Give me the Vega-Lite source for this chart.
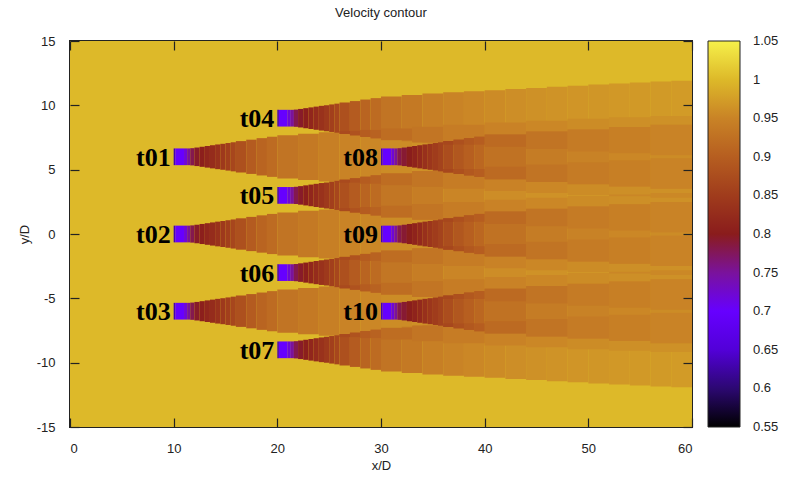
{
"$schema": "https://vega.github.io/schema/vega-lite/v6.json",
"width": 622, "height": 386,
"autosize": "none",
"padding": {"left": 70, "top": 41, "right": 95, "bottom": 55},
"background": "white",
"title": {"text": "Velocity contour", "fontSize": 13, "fontWeight": "normal", "font": "Liberation Sans", "color": "#222", "offset": 15},
"datasets": {
"f": [
{"x":0,"x2":60,"y":-15,"y2":15,"v":1},
{"x":10,"x2":10.15,"y":5.35,"y2":6.65,"v":0.63},
{"x":10.15,"x2":11,"y":5.35,"y2":6.65,"v":0.7},
{"x":11,"x2":11.3,"y":5.35,"y2":6.65,"v":0.72},
{"x":11.3,"x2":11.6,"y":5.35,"y2":6.65,"v":0.75},
{"x":11.6,"x2":12,"y":5.33,"y2":6.67,"v":0.78},
{"x":12,"x2":12.5,"y":5.28,"y2":6.72,"v":0.795},
{"x":12.5,"x2":13,"y":5.22,"y2":6.78,"v":0.805},
{"x":13,"x2":13.5,"y":5.16,"y2":6.84,"v":0.815},
{"x":13.5,"x2":14,"y":5.1,"y2":6.9,"v":0.825},
{"x":14,"x2":14.5,"y":5.04,"y2":6.96,"v":0.835},
{"x":14.5,"x2":15,"y":4.99,"y2":7.01,"v":0.845},
{"x":15,"x2":15.5,"y":4.93,"y2":7.07,"v":0.855},
{"x":15.5,"x2":16,"y":4.87,"y2":7.13,"v":0.865},
{"x":16,"x2":17,"y":4.78,"y2":7.22,"v":0.88},
{"x":17,"x2":18,"y":4.67,"y2":7.33,"v":0.895},
{"x":18,"x2":19,"y":4.55,"y2":7.45,"v":0.908},
{"x":19,"x2":20,"y":4.44,"y2":7.56,"v":0.918},
{"x":20,"x2":22,"y":4.32,"y2":7.68,"v":0.93},
{"x":22,"x2":24,"y":4.2,"y2":7.8,"v":0.937},
{"x":24,"x2":26,"y":4.09,"y2":7.91,"v":0.944},
{"x":26,"x2":28,"y":3.99,"y2":8.01,"v":0.95},
{"x":28,"x2":30,"y":3.91,"y2":8.09,"v":0.954},
{"x":30,"x2":33,"y":3.8,"y2":8.2,"v":0.958},
{"x":33,"x2":36,"y":3.67,"y2":8.33,"v":0.962},
{"x":36,"x2":40,"y":3.51,"y2":8.49,"v":0.966},
{"x":40,"x2":44,"y":3.34,"y2":8.66,"v":0.969},
{"x":44,"x2":48,"y":3.19,"y2":8.81,"v":0.971},
{"x":48,"x2":52,"y":3.04,"y2":8.96,"v":0.973},
{"x":52,"x2":56,"y":2.93,"y2":9.07,"v":0.974},
{"x":56,"x2":60,"y":2.82,"y2":9.18,"v":0.975},
{"x":10,"x2":10.15,"y":-0.65,"y2":0.65,"v":0.63},
{"x":10.15,"x2":11,"y":-0.65,"y2":0.65,"v":0.7},
{"x":11,"x2":11.3,"y":-0.65,"y2":0.65,"v":0.72},
{"x":11.3,"x2":11.6,"y":-0.65,"y2":0.65,"v":0.75},
{"x":11.6,"x2":12,"y":-0.67,"y2":0.67,"v":0.78},
{"x":12,"x2":12.5,"y":-0.72,"y2":0.72,"v":0.795},
{"x":12.5,"x2":13,"y":-0.78,"y2":0.78,"v":0.805},
{"x":13,"x2":13.5,"y":-0.84,"y2":0.84,"v":0.815},
{"x":13.5,"x2":14,"y":-0.9,"y2":0.9,"v":0.825},
{"x":14,"x2":14.5,"y":-0.96,"y2":0.96,"v":0.835},
{"x":14.5,"x2":15,"y":-1.01,"y2":1.01,"v":0.845},
{"x":15,"x2":15.5,"y":-1.07,"y2":1.07,"v":0.855},
{"x":15.5,"x2":16,"y":-1.13,"y2":1.13,"v":0.865},
{"x":16,"x2":17,"y":-1.22,"y2":1.22,"v":0.88},
{"x":17,"x2":18,"y":-1.33,"y2":1.33,"v":0.895},
{"x":18,"x2":19,"y":-1.45,"y2":1.45,"v":0.908},
{"x":19,"x2":20,"y":-1.56,"y2":1.56,"v":0.918},
{"x":20,"x2":22,"y":-1.68,"y2":1.68,"v":0.93},
{"x":22,"x2":24,"y":-1.8,"y2":1.8,"v":0.937},
{"x":24,"x2":26,"y":-1.91,"y2":1.91,"v":0.944},
{"x":26,"x2":28,"y":-2.01,"y2":2.01,"v":0.95},
{"x":28,"x2":30,"y":-2.09,"y2":2.09,"v":0.954},
{"x":30,"x2":33,"y":-2.2,"y2":2.2,"v":0.958},
{"x":33,"x2":36,"y":-2.33,"y2":2.33,"v":0.962},
{"x":36,"x2":40,"y":-2.49,"y2":2.49,"v":0.966},
{"x":40,"x2":44,"y":-2.66,"y2":2.66,"v":0.969},
{"x":44,"x2":48,"y":-2.81,"y2":2.81,"v":0.971},
{"x":48,"x2":52,"y":-2.96,"y2":2.96,"v":0.973},
{"x":52,"x2":56,"y":-3.07,"y2":3.07,"v":0.974},
{"x":56,"x2":60,"y":-3.18,"y2":3.18,"v":0.975},
{"x":10,"x2":10.15,"y":-6.65,"y2":-5.35,"v":0.63},
{"x":10.15,"x2":11,"y":-6.65,"y2":-5.35,"v":0.7},
{"x":11,"x2":11.3,"y":-6.65,"y2":-5.35,"v":0.72},
{"x":11.3,"x2":11.6,"y":-6.65,"y2":-5.35,"v":0.75},
{"x":11.6,"x2":12,"y":-6.67,"y2":-5.33,"v":0.78},
{"x":12,"x2":12.5,"y":-6.72,"y2":-5.28,"v":0.795},
{"x":12.5,"x2":13,"y":-6.78,"y2":-5.22,"v":0.805},
{"x":13,"x2":13.5,"y":-6.84,"y2":-5.16,"v":0.815},
{"x":13.5,"x2":14,"y":-6.9,"y2":-5.1,"v":0.825},
{"x":14,"x2":14.5,"y":-6.96,"y2":-5.04,"v":0.835},
{"x":14.5,"x2":15,"y":-7.01,"y2":-4.99,"v":0.845},
{"x":15,"x2":15.5,"y":-7.07,"y2":-4.93,"v":0.855},
{"x":15.5,"x2":16,"y":-7.13,"y2":-4.87,"v":0.865},
{"x":16,"x2":17,"y":-7.22,"y2":-4.78,"v":0.88},
{"x":17,"x2":18,"y":-7.33,"y2":-4.67,"v":0.895},
{"x":18,"x2":19,"y":-7.45,"y2":-4.55,"v":0.908},
{"x":19,"x2":20,"y":-7.56,"y2":-4.44,"v":0.918},
{"x":20,"x2":22,"y":-7.68,"y2":-4.32,"v":0.93},
{"x":22,"x2":24,"y":-7.8,"y2":-4.2,"v":0.937},
{"x":24,"x2":26,"y":-7.91,"y2":-4.09,"v":0.944},
{"x":26,"x2":28,"y":-8.01,"y2":-3.99,"v":0.95},
{"x":28,"x2":30,"y":-8.09,"y2":-3.91,"v":0.954},
{"x":30,"x2":33,"y":-8.2,"y2":-3.8,"v":0.958},
{"x":33,"x2":36,"y":-8.33,"y2":-3.67,"v":0.962},
{"x":36,"x2":40,"y":-8.49,"y2":-3.51,"v":0.966},
{"x":40,"x2":44,"y":-8.66,"y2":-3.34,"v":0.969},
{"x":44,"x2":48,"y":-8.81,"y2":-3.19,"v":0.971},
{"x":48,"x2":52,"y":-8.96,"y2":-3.04,"v":0.973},
{"x":52,"x2":56,"y":-9.07,"y2":-2.93,"v":0.974},
{"x":56,"x2":60,"y":-9.18,"y2":-2.82,"v":0.975},
{"x":20,"x2":20.15,"y":8.35,"y2":9.65,"v":0.63},
{"x":20.15,"x2":21,"y":8.35,"y2":9.65,"v":0.7},
{"x":21,"x2":21.3,"y":8.35,"y2":9.65,"v":0.72},
{"x":21.3,"x2":21.6,"y":8.35,"y2":9.65,"v":0.75},
{"x":21.6,"x2":22,"y":8.33,"y2":9.67,"v":0.78},
{"x":22,"x2":22.5,"y":8.28,"y2":9.72,"v":0.795},
{"x":22.5,"x2":23,"y":8.22,"y2":9.78,"v":0.805},
{"x":23,"x2":23.5,"y":8.16,"y2":9.84,"v":0.815},
{"x":23.5,"x2":24,"y":8.1,"y2":9.9,"v":0.825},
{"x":24,"x2":24.5,"y":8.04,"y2":9.96,"v":0.835},
{"x":24.5,"x2":25,"y":7.99,"y2":10.01,"v":0.845},
{"x":25,"x2":25.5,"y":7.93,"y2":10.07,"v":0.855},
{"x":25.5,"x2":26,"y":7.87,"y2":10.13,"v":0.865},
{"x":26,"x2":27,"y":7.78,"y2":10.22,"v":0.88},
{"x":27,"x2":28,"y":7.67,"y2":10.33,"v":0.895},
{"x":28,"x2":29,"y":7.55,"y2":10.45,"v":0.908},
{"x":29,"x2":30,"y":7.44,"y2":10.56,"v":0.918},
{"x":30,"x2":32,"y":7.32,"y2":10.68,"v":0.93},
{"x":32,"x2":34,"y":7.2,"y2":10.8,"v":0.937},
{"x":34,"x2":36,"y":7.09,"y2":10.91,"v":0.944},
{"x":36,"x2":38,"y":6.99,"y2":11.01,"v":0.95},
{"x":38,"x2":40,"y":6.91,"y2":11.09,"v":0.954},
{"x":40,"x2":42,"y":6.83,"y2":11.17,"v":0.957},
{"x":42,"x2":44,"y":6.74,"y2":11.26,"v":0.96},
{"x":44,"x2":46,"y":6.65,"y2":11.35,"v":0.963},
{"x":46,"x2":48,"y":6.56,"y2":11.44,"v":0.965},
{"x":48,"x2":50,"y":6.47,"y2":11.53,"v":0.967},
{"x":50,"x2":52,"y":6.38,"y2":11.62,"v":0.968},
{"x":52,"x2":54,"y":6.31,"y2":11.69,"v":0.969},
{"x":54,"x2":56,"y":6.23,"y2":11.77,"v":0.97},
{"x":56,"x2":58,"y":6.15,"y2":11.85,"v":0.971},
{"x":58,"x2":60,"y":6.08,"y2":11.92,"v":0.972},
{"x":20,"x2":20.15,"y":2.35,"y2":3.65,"v":0.63},
{"x":20.15,"x2":21,"y":2.35,"y2":3.65,"v":0.7},
{"x":21,"x2":21.3,"y":2.35,"y2":3.65,"v":0.72},
{"x":21.3,"x2":21.6,"y":2.35,"y2":3.65,"v":0.75},
{"x":21.6,"x2":22,"y":2.33,"y2":3.67,"v":0.78},
{"x":22,"x2":22.5,"y":2.28,"y2":3.72,"v":0.795},
{"x":22.5,"x2":23,"y":2.22,"y2":3.78,"v":0.805},
{"x":23,"x2":23.5,"y":2.16,"y2":3.84,"v":0.815},
{"x":23.5,"x2":24,"y":2.1,"y2":3.9,"v":0.825},
{"x":24,"x2":24.5,"y":2.04,"y2":3.96,"v":0.835},
{"x":24.5,"x2":25,"y":1.99,"y2":4.01,"v":0.845},
{"x":25,"x2":25.5,"y":1.93,"y2":4.07,"v":0.855},
{"x":25.5,"x2":26,"y":1.87,"y2":4.13,"v":0.865},
{"x":26,"x2":27,"y":1.78,"y2":4.22,"v":0.88},
{"x":27,"x2":28,"y":1.67,"y2":4.33,"v":0.895},
{"x":28,"x2":29,"y":1.55,"y2":4.45,"v":0.908},
{"x":29,"x2":30,"y":1.44,"y2":4.56,"v":0.918},
{"x":30,"x2":33,"y":1.29,"y2":4.71,"v":0.932},
{"x":33,"x2":36,"y":1.11,"y2":4.89,"v":0.942},
{"x":36,"x2":40,"y":0.95,"y2":5.05,"v":0.952},
{"x":40,"x2":44,"y":0.78,"y2":5.22,"v":0.959},
{"x":44,"x2":48,"y":0.6,"y2":5.4,"v":0.964},
{"x":48,"x2":52,"y":0.42,"y2":5.58,"v":0.967},
{"x":52,"x2":56,"y":0.27,"y2":5.73,"v":0.97},
{"x":56,"x2":60,"y":0.12,"y2":5.88,"v":0.972},
{"x":20,"x2":20.15,"y":-3.65,"y2":-2.35,"v":0.63},
{"x":20.15,"x2":21,"y":-3.65,"y2":-2.35,"v":0.7},
{"x":21,"x2":21.3,"y":-3.65,"y2":-2.35,"v":0.72},
{"x":21.3,"x2":21.6,"y":-3.65,"y2":-2.35,"v":0.75},
{"x":21.6,"x2":22,"y":-3.67,"y2":-2.33,"v":0.78},
{"x":22,"x2":22.5,"y":-3.72,"y2":-2.28,"v":0.795},
{"x":22.5,"x2":23,"y":-3.78,"y2":-2.22,"v":0.805},
{"x":23,"x2":23.5,"y":-3.84,"y2":-2.16,"v":0.815},
{"x":23.5,"x2":24,"y":-3.9,"y2":-2.1,"v":0.825},
{"x":24,"x2":24.5,"y":-3.96,"y2":-2.04,"v":0.835},
{"x":24.5,"x2":25,"y":-4.01,"y2":-1.99,"v":0.845},
{"x":25,"x2":25.5,"y":-4.07,"y2":-1.93,"v":0.855},
{"x":25.5,"x2":26,"y":-4.13,"y2":-1.87,"v":0.865},
{"x":26,"x2":27,"y":-4.22,"y2":-1.78,"v":0.88},
{"x":27,"x2":28,"y":-4.33,"y2":-1.67,"v":0.895},
{"x":28,"x2":29,"y":-4.45,"y2":-1.55,"v":0.908},
{"x":29,"x2":30,"y":-4.56,"y2":-1.44,"v":0.918},
{"x":30,"x2":33,"y":-4.71,"y2":-1.29,"v":0.932},
{"x":33,"x2":36,"y":-4.89,"y2":-1.11,"v":0.942},
{"x":36,"x2":40,"y":-5.05,"y2":-0.95,"v":0.952},
{"x":40,"x2":44,"y":-5.22,"y2":-0.78,"v":0.959},
{"x":44,"x2":48,"y":-5.4,"y2":-0.6,"v":0.964},
{"x":48,"x2":52,"y":-5.58,"y2":-0.42,"v":0.967},
{"x":52,"x2":56,"y":-5.73,"y2":-0.27,"v":0.97},
{"x":56,"x2":60,"y":-5.88,"y2":-0.12,"v":0.972},
{"x":20,"x2":20.15,"y":-9.65,"y2":-8.35,"v":0.63},
{"x":20.15,"x2":21,"y":-9.65,"y2":-8.35,"v":0.7},
{"x":21,"x2":21.3,"y":-9.65,"y2":-8.35,"v":0.72},
{"x":21.3,"x2":21.6,"y":-9.65,"y2":-8.35,"v":0.75},
{"x":21.6,"x2":22,"y":-9.67,"y2":-8.33,"v":0.78},
{"x":22,"x2":22.5,"y":-9.72,"y2":-8.28,"v":0.795},
{"x":22.5,"x2":23,"y":-9.78,"y2":-8.22,"v":0.805},
{"x":23,"x2":23.5,"y":-9.84,"y2":-8.16,"v":0.815},
{"x":23.5,"x2":24,"y":-9.9,"y2":-8.1,"v":0.825},
{"x":24,"x2":24.5,"y":-9.96,"y2":-8.04,"v":0.835},
{"x":24.5,"x2":25,"y":-10.01,"y2":-7.99,"v":0.845},
{"x":25,"x2":25.5,"y":-10.07,"y2":-7.93,"v":0.855},
{"x":25.5,"x2":26,"y":-10.13,"y2":-7.87,"v":0.865},
{"x":26,"x2":27,"y":-10.22,"y2":-7.78,"v":0.88},
{"x":27,"x2":28,"y":-10.33,"y2":-7.67,"v":0.895},
{"x":28,"x2":29,"y":-10.45,"y2":-7.55,"v":0.908},
{"x":29,"x2":30,"y":-10.56,"y2":-7.44,"v":0.918},
{"x":30,"x2":32,"y":-10.68,"y2":-7.32,"v":0.93},
{"x":32,"x2":34,"y":-10.8,"y2":-7.2,"v":0.937},
{"x":34,"x2":36,"y":-10.91,"y2":-7.09,"v":0.944},
{"x":36,"x2":38,"y":-11.01,"y2":-6.99,"v":0.95},
{"x":38,"x2":40,"y":-11.09,"y2":-6.91,"v":0.954},
{"x":40,"x2":42,"y":-11.17,"y2":-6.83,"v":0.957},
{"x":42,"x2":44,"y":-11.26,"y2":-6.74,"v":0.96},
{"x":44,"x2":46,"y":-11.35,"y2":-6.65,"v":0.963},
{"x":46,"x2":48,"y":-11.44,"y2":-6.56,"v":0.965},
{"x":48,"x2":50,"y":-11.53,"y2":-6.47,"v":0.967},
{"x":50,"x2":52,"y":-11.62,"y2":-6.38,"v":0.968},
{"x":52,"x2":54,"y":-11.69,"y2":-6.31,"v":0.969},
{"x":54,"x2":56,"y":-11.77,"y2":-6.23,"v":0.97},
{"x":56,"x2":58,"y":-11.85,"y2":-6.15,"v":0.971},
{"x":58,"x2":60,"y":-11.92,"y2":-6.08,"v":0.972},
{"x":26,"x2":27,"y":7.78,"y2":8.01,"v":0.87},
{"x":27,"x2":28,"y":7.67,"y2":8.01,"v":0.883},
{"x":28,"x2":29,"y":7.55,"y2":8.09,"v":0.897},
{"x":29,"x2":30,"y":7.44,"y2":8.09,"v":0.906},
{"x":30,"x2":33,"y":7.29,"y2":8.2,"v":0.92},
{"x":33,"x2":36,"y":7.11,"y2":8.33,"v":0.931},
{"x":36,"x2":40,"y":6.95,"y2":8.49,"v":0.941},
{"x":40,"x2":44,"y":6.78,"y2":8.66,"v":0.949},
{"x":44,"x2":48,"y":6.6,"y2":8.81,"v":0.954},
{"x":48,"x2":52,"y":6.42,"y2":8.96,"v":0.958},
{"x":52,"x2":56,"y":6.27,"y2":9.07,"v":0.961},
{"x":56,"x2":60,"y":6.12,"y2":9.18,"v":0.963},
{"x":26,"x2":27,"y":3.99,"y2":4.22,"v":0.87},
{"x":27,"x2":28,"y":3.99,"y2":4.33,"v":0.883},
{"x":28,"x2":29,"y":3.91,"y2":4.45,"v":0.897},
{"x":29,"x2":30,"y":3.91,"y2":4.56,"v":0.906},
{"x":30,"x2":33,"y":3.8,"y2":4.71,"v":0.92},
{"x":33,"x2":36,"y":3.67,"y2":4.89,"v":0.931},
{"x":36,"x2":40,"y":3.51,"y2":5.05,"v":0.941},
{"x":40,"x2":44,"y":3.34,"y2":5.22,"v":0.949},
{"x":44,"x2":48,"y":3.19,"y2":5.4,"v":0.954},
{"x":48,"x2":52,"y":3.04,"y2":5.58,"v":0.958},
{"x":52,"x2":56,"y":2.93,"y2":5.73,"v":0.961},
{"x":56,"x2":60,"y":2.82,"y2":5.88,"v":0.963},
{"x":26,"x2":27,"y":1.78,"y2":2.01,"v":0.87},
{"x":27,"x2":28,"y":1.67,"y2":2.01,"v":0.883},
{"x":28,"x2":29,"y":1.55,"y2":2.09,"v":0.897},
{"x":29,"x2":30,"y":1.44,"y2":2.09,"v":0.906},
{"x":30,"x2":33,"y":1.29,"y2":2.2,"v":0.92},
{"x":33,"x2":36,"y":1.11,"y2":2.33,"v":0.931},
{"x":36,"x2":40,"y":0.95,"y2":2.49,"v":0.941},
{"x":40,"x2":44,"y":0.78,"y2":2.66,"v":0.949},
{"x":44,"x2":48,"y":0.6,"y2":2.81,"v":0.954},
{"x":48,"x2":52,"y":0.42,"y2":2.96,"v":0.958},
{"x":52,"x2":56,"y":0.27,"y2":3.07,"v":0.961},
{"x":56,"x2":60,"y":0.12,"y2":3.18,"v":0.963},
{"x":26,"x2":27,"y":-2.01,"y2":-1.78,"v":0.87},
{"x":27,"x2":28,"y":-2.01,"y2":-1.67,"v":0.883},
{"x":28,"x2":29,"y":-2.09,"y2":-1.55,"v":0.897},
{"x":29,"x2":30,"y":-2.09,"y2":-1.44,"v":0.906},
{"x":30,"x2":33,"y":-2.2,"y2":-1.29,"v":0.92},
{"x":33,"x2":36,"y":-2.33,"y2":-1.11,"v":0.931},
{"x":36,"x2":40,"y":-2.49,"y2":-0.95,"v":0.941},
{"x":40,"x2":44,"y":-2.66,"y2":-0.78,"v":0.949},
{"x":44,"x2":48,"y":-2.81,"y2":-0.6,"v":0.954},
{"x":48,"x2":52,"y":-2.96,"y2":-0.42,"v":0.958},
{"x":52,"x2":56,"y":-3.07,"y2":-0.27,"v":0.961},
{"x":56,"x2":60,"y":-3.18,"y2":-0.12,"v":0.963},
{"x":26,"x2":27,"y":-4.22,"y2":-3.99,"v":0.87},
{"x":27,"x2":28,"y":-4.33,"y2":-3.99,"v":0.883},
{"x":28,"x2":29,"y":-4.45,"y2":-3.91,"v":0.897},
{"x":29,"x2":30,"y":-4.56,"y2":-3.91,"v":0.906},
{"x":30,"x2":33,"y":-4.71,"y2":-3.8,"v":0.92},
{"x":33,"x2":36,"y":-4.89,"y2":-3.67,"v":0.931},
{"x":36,"x2":40,"y":-5.05,"y2":-3.51,"v":0.941},
{"x":40,"x2":44,"y":-5.22,"y2":-3.34,"v":0.949},
{"x":44,"x2":48,"y":-5.4,"y2":-3.19,"v":0.954},
{"x":48,"x2":52,"y":-5.58,"y2":-3.04,"v":0.958},
{"x":52,"x2":56,"y":-5.73,"y2":-2.93,"v":0.961},
{"x":56,"x2":60,"y":-5.88,"y2":-2.82,"v":0.963},
{"x":26,"x2":27,"y":-8.01,"y2":-7.78,"v":0.87},
{"x":27,"x2":28,"y":-8.01,"y2":-7.67,"v":0.883},
{"x":28,"x2":29,"y":-8.09,"y2":-7.55,"v":0.897},
{"x":29,"x2":30,"y":-8.09,"y2":-7.44,"v":0.906},
{"x":30,"x2":33,"y":-8.2,"y2":-7.29,"v":0.92},
{"x":33,"x2":36,"y":-8.33,"y2":-7.11,"v":0.931},
{"x":36,"x2":40,"y":-8.49,"y2":-6.95,"v":0.941},
{"x":40,"x2":44,"y":-8.66,"y2":-6.78,"v":0.949},
{"x":44,"x2":48,"y":-8.81,"y2":-6.6,"v":0.954},
{"x":48,"x2":52,"y":-8.96,"y2":-6.42,"v":0.958},
{"x":52,"x2":56,"y":-9.07,"y2":-6.27,"v":0.961},
{"x":56,"x2":60,"y":-9.18,"y2":-6.12,"v":0.963},
{"x":52,"x2":56,"y":2.93,"y2":3.07,"v":0.953},
{"x":56,"x2":60,"y":2.82,"y2":3.18,"v":0.955},
{"x":52,"x2":56,"y":-3.07,"y2":-2.93,"v":0.953},
{"x":56,"x2":60,"y":-3.18,"y2":-2.82,"v":0.955},
{"x":30,"x2":30.15,"y":5.35,"y2":6.65,"v":0.63},
{"x":30.15,"x2":31,"y":5.35,"y2":6.65,"v":0.7},
{"x":31,"x2":31.3,"y":5.35,"y2":6.65,"v":0.72},
{"x":31.3,"x2":31.6,"y":5.35,"y2":6.65,"v":0.75},
{"x":31.6,"x2":32,"y":5.33,"y2":6.67,"v":0.78},
{"x":32,"x2":32.5,"y":5.28,"y2":6.72,"v":0.791},
{"x":32.5,"x2":33,"y":5.22,"y2":6.78,"v":0.801},
{"x":33,"x2":33.5,"y":5.16,"y2":6.84,"v":0.811},
{"x":33.5,"x2":34,"y":5.1,"y2":6.9,"v":0.821},
{"x":34,"x2":34.5,"y":5.04,"y2":6.96,"v":0.831},
{"x":34.5,"x2":35,"y":4.99,"y2":7.01,"v":0.84},
{"x":35,"x2":35.5,"y":4.93,"y2":7.07,"v":0.85},
{"x":35.5,"x2":36,"y":4.87,"y2":7.13,"v":0.86},
{"x":36,"x2":37,"y":4.78,"y2":7.22,"v":0.875},
{"x":37,"x2":38,"y":4.67,"y2":7.33,"v":0.889},
{"x":38,"x2":39,"y":4.55,"y2":7.45,"v":0.902},
{"x":39,"x2":40,"y":4.44,"y2":7.56,"v":0.912},
{"x":40,"x2":44,"y":4.26,"y2":7.74,"v":0.927},
{"x":44,"x2":48,"y":4.04,"y2":7.96,"v":0.94},
{"x":48,"x2":52,"y":3.87,"y2":8.13,"v":0.948},
{"x":52,"x2":56,"y":3.69,"y2":8.31,"v":0.954},
{"x":56,"x2":60,"y":3.51,"y2":8.49,"v":0.958},
{"x":30,"x2":30.15,"y":-0.65,"y2":0.65,"v":0.63},
{"x":30.15,"x2":31,"y":-0.65,"y2":0.65,"v":0.7},
{"x":31,"x2":31.3,"y":-0.65,"y2":0.65,"v":0.72},
{"x":31.3,"x2":31.6,"y":-0.65,"y2":0.65,"v":0.75},
{"x":31.6,"x2":32,"y":-0.67,"y2":0.67,"v":0.78},
{"x":32,"x2":32.5,"y":-0.72,"y2":0.72,"v":0.791},
{"x":32.5,"x2":33,"y":-0.78,"y2":0.78,"v":0.801},
{"x":33,"x2":33.5,"y":-0.84,"y2":0.84,"v":0.811},
{"x":33.5,"x2":34,"y":-0.9,"y2":0.9,"v":0.821},
{"x":34,"x2":34.5,"y":-0.96,"y2":0.96,"v":0.831},
{"x":34.5,"x2":35,"y":-1.01,"y2":1.01,"v":0.84},
{"x":35,"x2":35.5,"y":-1.07,"y2":1.07,"v":0.85},
{"x":35.5,"x2":36,"y":-1.13,"y2":1.13,"v":0.86},
{"x":36,"x2":37,"y":-1.22,"y2":1.22,"v":0.875},
{"x":37,"x2":38,"y":-1.33,"y2":1.33,"v":0.889},
{"x":38,"x2":39,"y":-1.45,"y2":1.45,"v":0.902},
{"x":39,"x2":40,"y":-1.56,"y2":1.56,"v":0.912},
{"x":40,"x2":44,"y":-1.74,"y2":1.74,"v":0.927},
{"x":44,"x2":48,"y":-1.96,"y2":1.96,"v":0.94},
{"x":48,"x2":52,"y":-2.13,"y2":2.13,"v":0.948},
{"x":52,"x2":56,"y":-2.31,"y2":2.31,"v":0.954},
{"x":56,"x2":60,"y":-2.49,"y2":2.49,"v":0.958},
{"x":30,"x2":30.15,"y":-6.65,"y2":-5.35,"v":0.63},
{"x":30.15,"x2":31,"y":-6.65,"y2":-5.35,"v":0.7},
{"x":31,"x2":31.3,"y":-6.65,"y2":-5.35,"v":0.72},
{"x":31.3,"x2":31.6,"y":-6.65,"y2":-5.35,"v":0.75},
{"x":31.6,"x2":32,"y":-6.67,"y2":-5.33,"v":0.78},
{"x":32,"x2":32.5,"y":-6.72,"y2":-5.28,"v":0.791},
{"x":32.5,"x2":33,"y":-6.78,"y2":-5.22,"v":0.801},
{"x":33,"x2":33.5,"y":-6.84,"y2":-5.16,"v":0.811},
{"x":33.5,"x2":34,"y":-6.9,"y2":-5.1,"v":0.821},
{"x":34,"x2":34.5,"y":-6.96,"y2":-5.04,"v":0.831},
{"x":34.5,"x2":35,"y":-7.01,"y2":-4.99,"v":0.84},
{"x":35,"x2":35.5,"y":-7.07,"y2":-4.93,"v":0.85},
{"x":35.5,"x2":36,"y":-7.13,"y2":-4.87,"v":0.86},
{"x":36,"x2":37,"y":-7.22,"y2":-4.78,"v":0.875},
{"x":37,"x2":38,"y":-7.33,"y2":-4.67,"v":0.889},
{"x":38,"x2":39,"y":-7.45,"y2":-4.55,"v":0.902},
{"x":39,"x2":40,"y":-7.56,"y2":-4.44,"v":0.912},
{"x":40,"x2":44,"y":-7.74,"y2":-4.26,"v":0.927},
{"x":44,"x2":48,"y":-7.96,"y2":-4.04,"v":0.94},
{"x":48,"x2":52,"y":-8.13,"y2":-3.87,"v":0.948},
{"x":52,"x2":56,"y":-8.31,"y2":-3.69,"v":0.954},
{"x":56,"x2":60,"y":-8.49,"y2":-3.51,"v":0.958},
{"x":36,"x2":37,"y":6.95,"y2":7.22,"v":0.866},
{"x":37,"x2":38,"y":6.95,"y2":7.33,"v":0.88},
{"x":38,"x2":39,"y":6.95,"y2":7.45,"v":0.891},
{"x":39,"x2":40,"y":6.95,"y2":7.56,"v":0.899},
{"x":40,"x2":44,"y":6.78,"y2":7.74,"v":0.916},
{"x":44,"x2":48,"y":6.6,"y2":7.96,"v":0.93},
{"x":48,"x2":52,"y":6.42,"y2":8.13,"v":0.939},
{"x":52,"x2":56,"y":6.27,"y2":8.31,"v":0.945},
{"x":56,"x2":60,"y":6.12,"y2":8.49,"v":0.95},
{"x":36,"x2":37,"y":4.78,"y2":5.05,"v":0.866},
{"x":37,"x2":38,"y":4.67,"y2":5.05,"v":0.88},
{"x":38,"x2":39,"y":4.55,"y2":5.05,"v":0.891},
{"x":39,"x2":40,"y":4.44,"y2":5.05,"v":0.899},
{"x":40,"x2":44,"y":4.26,"y2":5.22,"v":0.916},
{"x":44,"x2":48,"y":4.04,"y2":5.4,"v":0.93},
{"x":48,"x2":52,"y":3.87,"y2":5.58,"v":0.939},
{"x":52,"x2":56,"y":3.69,"y2":5.73,"v":0.945},
{"x":56,"x2":60,"y":3.51,"y2":5.88,"v":0.95},
{"x":36,"x2":37,"y":0.95,"y2":1.22,"v":0.866},
{"x":37,"x2":38,"y":0.95,"y2":1.33,"v":0.88},
{"x":38,"x2":39,"y":0.95,"y2":1.45,"v":0.891},
{"x":39,"x2":40,"y":0.95,"y2":1.56,"v":0.899},
{"x":40,"x2":44,"y":0.78,"y2":1.74,"v":0.916},
{"x":44,"x2":48,"y":0.6,"y2":1.96,"v":0.93},
{"x":48,"x2":52,"y":0.42,"y2":2.13,"v":0.939},
{"x":52,"x2":56,"y":0.27,"y2":2.31,"v":0.945},
{"x":56,"x2":60,"y":0.12,"y2":2.49,"v":0.95},
{"x":36,"x2":37,"y":-1.22,"y2":-0.95,"v":0.866},
{"x":37,"x2":38,"y":-1.33,"y2":-0.95,"v":0.88},
{"x":38,"x2":39,"y":-1.45,"y2":-0.95,"v":0.891},
{"x":39,"x2":40,"y":-1.56,"y2":-0.95,"v":0.899},
{"x":40,"x2":44,"y":-1.74,"y2":-0.78,"v":0.916},
{"x":44,"x2":48,"y":-1.96,"y2":-0.6,"v":0.93},
{"x":48,"x2":52,"y":-2.13,"y2":-0.42,"v":0.939},
{"x":52,"x2":56,"y":-2.31,"y2":-0.27,"v":0.945},
{"x":56,"x2":60,"y":-2.49,"y2":-0.12,"v":0.95},
{"x":36,"x2":37,"y":-5.05,"y2":-4.78,"v":0.866},
{"x":37,"x2":38,"y":-5.05,"y2":-4.67,"v":0.88},
{"x":38,"x2":39,"y":-5.05,"y2":-4.55,"v":0.891},
{"x":39,"x2":40,"y":-5.05,"y2":-4.44,"v":0.899},
{"x":40,"x2":44,"y":-5.22,"y2":-4.26,"v":0.916},
{"x":44,"x2":48,"y":-5.4,"y2":-4.04,"v":0.93},
{"x":48,"x2":52,"y":-5.58,"y2":-3.87,"v":0.939},
{"x":52,"x2":56,"y":-5.73,"y2":-3.69,"v":0.945},
{"x":56,"x2":60,"y":-5.88,"y2":-3.51,"v":0.95},
{"x":36,"x2":37,"y":-7.22,"y2":-6.95,"v":0.866},
{"x":37,"x2":38,"y":-7.33,"y2":-6.95,"v":0.88},
{"x":38,"x2":39,"y":-7.45,"y2":-6.95,"v":0.891},
{"x":39,"x2":40,"y":-7.56,"y2":-6.95,"v":0.899},
{"x":40,"x2":44,"y":-7.74,"y2":-6.78,"v":0.916},
{"x":44,"x2":48,"y":-7.96,"y2":-6.6,"v":0.93},
{"x":48,"x2":52,"y":-8.13,"y2":-6.42,"v":0.939},
{"x":52,"x2":56,"y":-8.31,"y2":-6.27,"v":0.945},
{"x":56,"x2":60,"y":-8.49,"y2":-6.12,"v":0.95}
],
"t": [
{"x":10,"y":6,"n":"t01"},{"x":10,"y":0,"n":"t02"},{"x":10,"y":-6,"n":"t03"},
{"x":20,"y":9,"n":"t04"},{"x":20,"y":3,"n":"t05"},{"x":20,"y":-3,"n":"t06"},{"x":20,"y":-9,"n":"t07"},
{"x":30,"y":6,"n":"t08"},{"x":30,"y":0,"n":"t09"},{"x":30,"y":-6,"n":"t10"}
]
},
"layer": [
{
"data": {"name": "f"},
"mark": {"type": "rect", "strokeWidth": 0},
"encoding": {
"x": {"field": "x", "type": "quantitative", "scale": {"domain": [0, 60], "nice": false, "zero": false}, "axis": {"orient": "bottom", "title": "x/D", "values": [0,10,20,30,40,50,60], "offset": -9, "tickSize": 9, "domain": false, "labelPadding": 15, "titlePadding": 4, "labelExpr": "toString(datum.value)", "zindex": 2}},
"x2": {"field": "x2"},
"y": {"field": "y", "type": "quantitative", "scale": {"domain": [-15, 15], "nice": false, "zero": false}, "axis": {"orient": "left", "title": "y/D", "values": [-15,-10,-5,0,5,10,15], "offset": -9, "tickSize": 9, "domain": false, "labelPadding": 15, "titlePadding": 5, "labelExpr": "toString(datum.value)", "zindex": 2}},
"y2": {"field": "y2"},
"color": {"field": "v", "type": "quantitative",
"scale": {"domain": [0.55,0.6,0.65,0.7,0.75,0.8,0.85,0.9,0.95,1,1.05], "range": ["#000000","#2c0872","#5200d8","#6600ff","#7a129c","#8a1c1c","#a03c1c","#b65e20","#c98326","#ddb929","#f6f04a"], "interpolate": "rgb"},
"legend": {"title": null, "type": "gradient", "direction": "vertical", "orient": "right", "offset": 15, "values": [0.55,0.6,0.65,0.7,0.75,0.8,0.85,0.9,0.95,1,1.05], "labelExpr": "toString(datum.value)", "gradientLength": 386, "gradientThickness": 32, "gradientStrokeColor": "#222", "gradientStrokeWidth": 1, "labelOffset": 13, "labelFontSize": 13, "labelFont": "Liberation Sans", "labelColor": "#222", "labelOverlap": false, "encode": {"labels": {"update": {"baseline": {"value": "middle"}}}}}}
}
},
{
"data": {"name": "t"},
"mark": {"type": "text", "align": "right", "baseline": "alphabetic", "dx": -3, "dy": 9, "font": "Liberation Serif", "fontWeight": "bold", "fontSize": 26, "fill": "#000"},
"encoding": {
"x": {"field": "x", "type": "quantitative", "axis": {"orient": "top", "labels": false, "title": null, "values": [0,10,20,30,40,50,60], "offset": -9, "tickSize": 9, "domain": false, "zindex": 2}},
"y": {"field": "y", "type": "quantitative", "axis": {"orient": "right", "labels": false, "title": null, "values": [-15,-10,-5,0,5,10,15], "offset": -9, "tickSize": 9, "domain": false, "zindex": 2}},
"text": {"field": "n"}
}
}
],
"resolve": {"axis": {"x": "independent", "y": "independent"}},
"config": {
"view": {"stroke": "#222", "strokeWidth": 2},
"axis": {"labelFont": "Liberation Sans", "labelFontSize": 13, "labelColor": "#222", "titleFont": "Liberation Sans", "titleFontSize": 13, "titleFontWeight": "normal", "titleColor": "#222", "tickColor": "#222", "domainColor": "#222", "grid": false, "tickWidth": 1.2, "domainWidth": 1}
}
}
